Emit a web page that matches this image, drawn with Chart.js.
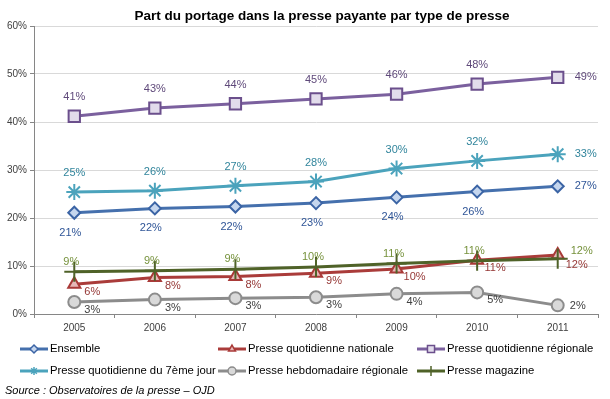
<!DOCTYPE html>
<html><head><meta charset="utf-8">
<script src="https://cdn.jsdelivr.net/npm/chart.js@4.4.1/dist/chart.umd.min.js"></script>
<style>html,body{margin:0;padding:0;background:#fff;}#wrap{width:610px;height:399px;position:relative;}</style>
</head><body><div id="wrap"><canvas id="c" width="610" height="399"></canvas></div>
<script>
const years = ['2005','2006','2007','2008','2009','2010','2011'];
const yTicks = [0,10,20,30,40,50,60];
const ensemble  = [21.1, 22.0, 22.4, 23.1, 24.3, 25.5, 26.6];
const pqn       = [6.2, 7.6, 7.8, 8.5, 9.4, 11.2, 12.3];
const pqr       = [41.2, 42.9, 43.8, 44.8, 45.8, 47.9, 49.3];
const septieme  = [25.4, 25.7, 26.7, 27.6, 30.3, 31.9, 33.3];
const hebdo     = [2.5, 3.0, 3.3, 3.5, 4.2, 4.5, 1.8];
const magazine  = [8.8, 9.0, 9.3, 9.8, 10.5, 11.1, 11.5];
const ensembleLbl = ['21%','22%','22%','23%','24%','26%','27%'];
const pqnLbl      = ['6%','8%','8%','9%','10%','11%','12%'];
const pqrLbl      = ['41%','43%','44%','45%','46%','48%','49%'];
const septiemeLbl = ['25%','26%','27%','28%','30%','32%','33%'];
const hebdoLbl    = ['3%','3%','3%','3%','4%','5%','2%'];
const magazineLbl = ['9%','9%','9%','10%','11%','11%','12%'];
const seriesNames = ['Ensemble','Presse quotidienne nationale','Presse quotidienne régionale','Presse quotidienne du 7ème jour','Presse hebdomadaire régionale','Presse magazine'];

const FONT = "'Liberation Sans', Arial, sans-serif";

function ds(name, data, lbls, line, border, fill, style, radius, lblColor, off, lastOff, order){
  return {label:name, data:data, lbls:lbls, borderColor:line, borderWidth:3, pointStyle:style,
    pointRadius:radius, pointHoverRadius:radius, pointBackgroundColor:fill, pointBorderColor:border,
    pointBorderWidth:2, tension:0, fill:false, lblColor:lblColor, off:off, lastOff:lastOff, order:order};
}

const datasets = [
  ds(seriesNames[0], ensemble, ensembleLbl, '#4570AD', '#3B64A5', '#C5D6EE', 'rectRot', 6, '#2F5597', [-4,20], [28,0], 3),
  ds(seriesNames[1], pqn, pqnLbl, '#AA3C3A', '#A93A38', '#E6B9B8', 'triangle', 7, '#953735', [18,8], [19,10], 2),
  ds(seriesNames[2], pqr, pqrLbl, '#7B609E', '#6B4F8C', '#E2DCEB', 'rect', 8, '#5F497A', [0,-19], [28,0], 4),
  ds(seriesNames[3], septieme, septiemeLbl, '#4BA3BC', '#4BA3BC', '#4BA3BC', 'star', 8, '#31859C', [0,-19], [28,0], 5),
  ds(seriesNames[4], hebdo, hebdoLbl, '#8C8C8C', '#8C8C8C', '#D9D9D9', 'circle', 6, '#404040', [18,8], [20,1], 6),
  ds(seriesNames[5], magazine, magazineLbl, '#4F6228', '#4F6228', '#4F6228', 'cross', 10, '#76923C', [-3,-10], [24,-8], 1)
];

const overlay = {
  id:'overlay',
  afterDatasetsDraw(chart){
    const ctx = chart.ctx;
    chart.data.datasets.forEach((d,i)=>{
      const meta = chart.getDatasetMeta(i);
      ctx.save();
      ctx.font = '11px ' + FONT; ctx.fillStyle = d.lblColor;
      ctx.textAlign = 'center'; ctx.textBaseline = 'middle';
      meta.data.forEach((pt,j)=>{
        const o = (j === meta.data.length-1) ? d.lastOff : d.off;
        ctx.fillText(d.lbls[j], pt.x + o[0], pt.y + o[1]);
      });
      ctx.restore();
    });
    ctx.save();
    ctx.font = 'bold 13.5px ' + FONT; ctx.fillStyle = '#000'; ctx.textAlign='center'; ctx.textBaseline='middle';
    ctx.fillText('Part du portage dans la presse payante par type de presse', 322, 16);
    ctx.restore();
    const cols = [20, 218, 417], rows = [349, 371];
    chart.data.datasets.forEach((d,i)=>{
      const x = cols[i%3], y = rows[Math.floor(i/3)];
      ctx.save();
      ctx.strokeStyle = d.borderColor; ctx.lineWidth = 3;
      ctx.beginPath(); ctx.moveTo(x, y); ctx.lineTo(x+28, y); ctx.stroke();
      ctx.fillStyle = d.pointBackgroundColor; ctx.strokeStyle = d.pointBorderColor; ctx.lineWidth = 1.5;
      Chart.helpers.drawPoint(ctx, {pointStyle:d.pointStyle, rotation:0, borderWidth:1.5, radius: d.pointStyle==='cross'?5:(d.pointStyle==='rect'?5:4)}, x+14, y);
      ctx.font = '11.3px ' + FONT; ctx.fillStyle = '#000'; ctx.textAlign='left'; ctx.textBaseline='middle';
      ctx.fillText(d.label, x+30, y);
      ctx.restore();
    });
    ctx.save();
    ctx.font = 'italic 11px ' + FONT; ctx.fillStyle = '#000'; ctx.textAlign='left'; ctx.textBaseline='middle';
    ctx.fillText('Source : Observatoires de la presse \u2013 OJD', 5, 391);
    ctx.restore();
  }
};

new Chart(document.getElementById('c'), {
  type:'line',
  data:{labels:years, datasets:datasets},
  options:{
    responsive:false, animation:false, devicePixelRatio:1,
    layout:{padding:{top:26, right:8, left:0, bottom:0}},
    plugins:{legend:{display:false}, title:{display:false}, tooltip:{enabled:false}},
    scales:{
      x:{type:'category', offset:true,
        grid:{display:true, drawOnChartArea:false, offset:true, tickLength:4, tickColor:'#868686'},
        border:{color:'#868686', width:1},
        ticks:{font:{family:FONT, size:10}, color:'#404040', padding:4, maxRotation:0},
        afterFit(s){ s.height = 85; }
      },
      y:{min:0, max:60,
        afterBuildTicks(s){ s.ticks = yTicks.map(v=>({value:v})); },
        grid:{color:'#D9D9D9', tickLength:4, tickColor:'#868686'},
        border:{color:'#868686', width:1},
        ticks:{font:{family:FONT, size:10}, color:'#404040', padding:3, callback:v=>v+'%'},
        afterFit(s){ s.width = 34; }
      }
    }
  },
  plugins:[overlay]
});
</script></body></html>
